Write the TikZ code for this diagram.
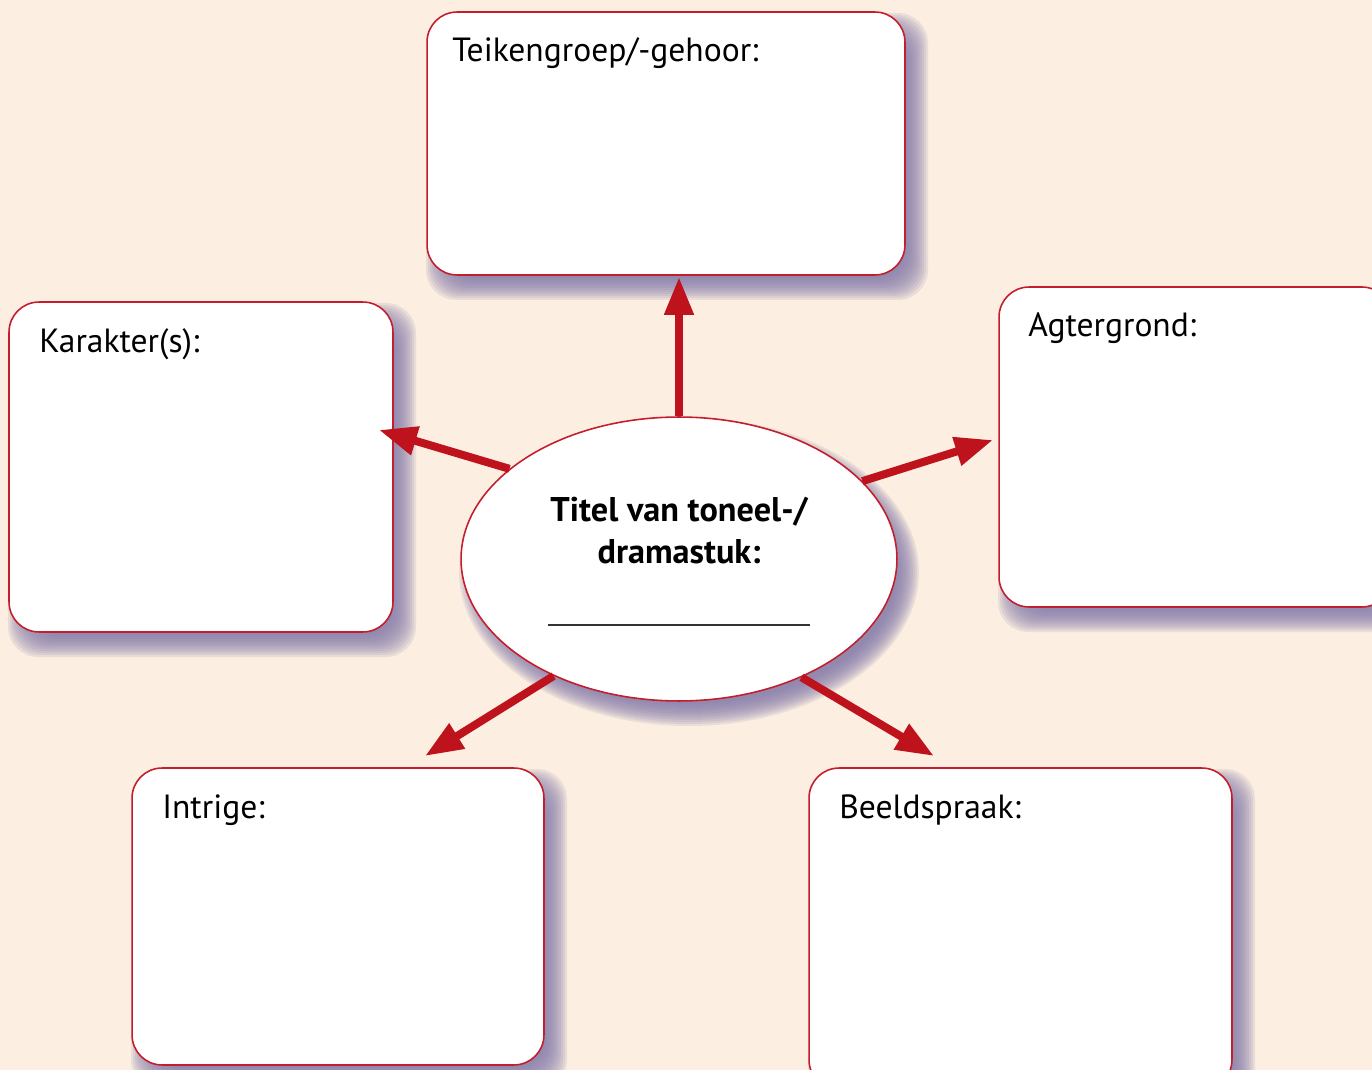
\documentclass[tikz,border=0pt]{standalone}
\usepackage{fontspec}
\setmainfont{PT Sans}
\usetikzlibrary{arrows.meta,shapes.geometric}
\definecolor{bg}{HTML}{FCEFE1}
\definecolor{edge}{HTML}{C41E2C}
\definecolor{arr}{HTML}{BE121D}
\definecolor{shad}{HTML}{857CAA}
\newcommand\myshadow[4]{%
  \foreach \k in {-10,-8,...,12}{%
    \fill[shad,opacity=0.15,rounded corners=0.6cm] (#1+11-\k,#2+13-\k) rectangle (#3+11+\k,#4+13+\k);}}
\begin{document}
\begin{tikzpicture}[x=0.02cm,y=-0.02cm,
  box/.style={draw=edge,line width=0.9pt,fill=white,rounded corners=0.6cm,inner sep=0pt,outer sep=0pt},
  lbl/.style={anchor=base west,inner sep=0pt,font=\fontsize{19.1}{23}\selectfont},
  ttl/.style={inner sep=0pt,font=\fontsize{19.5}{23}\selectfont\bfseries},
  conn/.style={arr,line width=0.16cm,-{Triangle[length=0.76cm,width=0.56cm]}}]
\useasboundingbox (0,0) rectangle (1372,1070);
\clip (0,0) rectangle (1372,1070);
\fill[bg] (0,0) rectangle (1372,1070);
% shadows
\myshadow{427}{12}{905}{275}
\myshadow{9}{302}{393}{632}
\myshadow{999}{287}{1392}{607}
\myshadow{132}{768}{544}{1065}
\myshadow{809}{768}{1232}{1090}
\foreach \k in {-10,-8,...,12}{%
  \fill[shad,opacity=0.15] (689,572) ellipse ({218+\k} and {142+\k});}
% boxes
\node[box,minimum width=9.56cm,minimum height=5.26cm] (top) at (666,143.5) {};
\node[box,minimum width=7.68cm,minimum height=6.6cm] (kar) at (201,467) {};
\node[box,minimum width=7.86cm,minimum height=6.4cm] (agt) at (1195.5,447) {};
\node[box,minimum width=8.24cm,minimum height=5.94cm] (int) at (338,916.5) {};
\node[box,minimum width=8.46cm,minimum height=6.44cm] (bee) at (1020.5,929) {};
\node[lbl] (ltop) at (452,62) {Teikengroep/-gehoor:};
\node[lbl] (lkar) at (39,353) {Karakter(s):};
\node[lbl] (lagt) at (1028,337) {Agtergrond:};
\node[lbl] (lint) at (162,818) {Intrige:};
\node[lbl] (lbee) at (839,818) {Beeldspraak:};
% centre
\node[ellipse,draw=edge,line width=0.9pt,fill=white,minimum width=8.72cm,minimum height=5.68cm,inner sep=0pt] (ell) at (679,559) {};
\coordinate (tU) at (679,277);
\coordinate (tL) at (379,430);
\coordinate (tR) at (993,440);
\coordinate (tDL) at (425,756);
\coordinate (tDR) at (934,756);
\draw[conn] (ell.north) -- (tU);
\draw[conn] (ell.152) -- (tL);
\draw[conn] (ell.23) -- (tR);
\draw[conn] (ell.223.6) -- (tDL);
\draw[conn] (ell.316.7) -- (tDR);
\node[ttl,anchor=base] (t1) at (679,522) {Titel van toneel-/};
\node[ttl,anchor=base] (t2) at (679,563) {dramastuk:};
\node[inner sep=0pt] (blank) at (679,625) {\color{black!80}\rule{5.24cm}{0.035cm}};
\end{tikzpicture}
\end{document}
